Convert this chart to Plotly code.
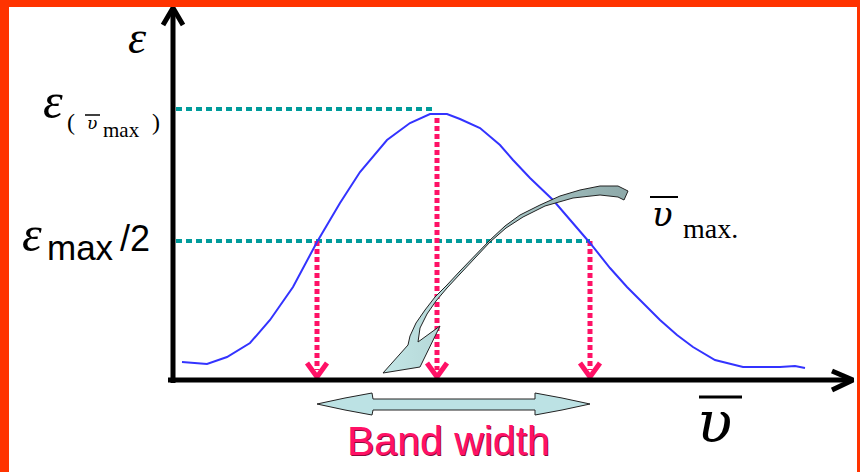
"""Absorption band sketch: epsilon vs wavenumber, with band width at half max."""

import plotly.graph_objects as go

# data units: x = wavenumber offset from the axis origin, y = epsilon
WAVE = [9, 34, 54, 77, 97, 120, 144, 167, 187, 214, 237, 257, 274, 287, 307, 327,
        340, 357, 380, 402, 417, 437, 454, 472, 487, 504, 520, 542, 570, 607, 622, 632]
EPS = [18, 16, 23, 37, 60, 93, 138, 177, 208, 240, 257, 266, 266, 261, 252, 235,
       220, 202, 180, 155, 137, 112, 93, 75, 60, 45, 33, 20, 13, 13, 14, 12]

EPS_MAX = 271
EPS_HALF = 139
PEAK_WAVE = 264
HALF_WAVES = [144, 417]

# decorative fat arrows (outline polygons, data units)
CURVED_X = [455, 445, 427, 407, 387, 367, 347, 332, 317, 302, 287, 274, 262, 252, 243, 237,
            235, 210, 247, 267, 245, 247, 254, 263, 274, 287, 302, 317, 333, 350, 372, 400,
            427, 445, 451, 455]
CURVED_Y = [189, 194, 194, 190, 184, 175, 165, 154, 140, 125, 109, 95, 83, 70, 57, 44,
            35, 7, 13, 54, 38, 52, 66, 79, 92, 106, 122, 138, 152, 163, 174, 182,
            185, 183, 180, 189]
BAND_X = [144, 172, 199, 200, 362, 362, 389, 417, 389, 362, 362, 200, 199, 172, 144]
BAND_Y = [-24, -18, -13, -19, -19, -13, -18, -24, -30, -35, -30, -30, -35, -30, -24]

BORDER = "#FF3300"
TEAL = "#009B9B"
PINK = "#FF1166"
SERIF = "Liberation Serif, Times New Roman, serif"
GREEK = "DejaVu Serif, serif"
SANS = "Liberation Sans, Arial, sans-serif"


def _line(fig, x, y, color, width, dash="solid"):
    fig.add_trace(go.Scatter(x=x, y=y, mode="lines", hoverinfo="skip",
                             line=dict(color=color, width=width, dash=dash)))


def _text(fig, x, y, text, size, family=SERIF, color="black"):
    fig.add_annotation(x=x, y=y, text=text, showarrow=False, xanchor="center", yanchor="middle",
                       font=dict(family=family, size=size, color=color))


fig = go.Figure()

# reference lines
_line(fig, [3, PEAK_WAVE - 2], [EPS_MAX, EPS_MAX], TEAL, 4, "6px,4px")
_line(fig, [3, HALF_WAVES[1]], [EPS_HALF, EPS_HALF], TEAL, 4, "6px,4px")

# dotted drop lines with chevron heads
for wx, top in [(HALF_WAVES[0], EPS_HALF), (PEAK_WAVE, 262), (HALF_WAVES[1], EPS_HALF)]:
    _line(fig, [wx, wx], [top, 10], PINK, 5, "5px,3px")
    _line(fig, [wx - 10, wx, wx + 10], [17, 3, 17], PINK, 5)

# the band
_line(fig, WAVE, EPS, "#3333FF", 2)

# curved pointer and band-width arrow
fig.add_trace(go.Scatter(x=CURVED_X, y=CURVED_Y, mode="lines", fill="toself", hoverinfo="skip",
                         line=dict(color="#222", width=1),
                         fillgradient=dict(type="horizontal",
                                           colorscale=[[0, "#C2E6E6"], [1, "#8EA9A9"]])))
fig.add_trace(go.Scatter(x=BAND_X, y=BAND_Y, mode="lines", fill="toself", hoverinfo="skip",
                         line=dict(color="#222", width=1), fillcolor="#BCE2E4"))

# axes with arrow heads
_line(fig, [0, 0], [-3, 370], "black", 5)
_line(fig, [-10, 0, 10], [355, 372, 355], "black", 5)
_line(fig, [-5, 678], [0, 0], "black", 5)
_line(fig, [659, 680, 659], [9, 0, -10], "black", 5)

# overbars of the wavenumber symbols
_line(fig, [-88, -73], [265, 265], "black", 1.5)
_line(fig, [477, 505], [183, 183], "black", 2)
_line(fig, [526, 569], [-17, -17], "black", 3)

# labels
_text(fig, -36, 343, "<i>ε</i>", 46)
_text(fig, -120, 279, "<i>ε</i>", 50)
_text(fig, -102, 258, "(", 24)
_text(fig, -81, 257, "<i>υ</i>", 17, GREEK)
_text(fig, -52, 250, "max", 21)
_text(fig, -17, 258, ")", 24)
_text(fig, -141, 146, "<i>ε</i>", 50)
_text(fig, -93, 133, "max", 35, SANS)
_text(fig, -38, 142, "/2", 36, SANS)
_text(fig, 489, 166, "<i>υ</i>", 34, GREEK)
_text(fig, 537, 152, "max.", 28)
_text(fig, 541, -42, "<i>υ</i>", 58, GREEK)
_text(fig, 276, -62, "Band width", 41, SANS, "#8B0A3A")
_text(fig, 275, -61, "Band width", 41, SANS, PINK)

# slide frame
for x0, x1, y0, y1 in [(-173, -164, -92, 380), (-173, 687, 373, 380), (684, 687, -92, 380)]:
    fig.add_shape(type="rect", x0=x0, x1=x1, y0=y0, y1=y1, line_width=0, fillcolor=BORDER)

fig.update_layout(
    width=860, height=472,
    margin=dict(l=0, r=0, t=0, b=0),
    paper_bgcolor="white", plot_bgcolor="white",
    showlegend=False,
)
fig.update_xaxes(range=[-173, 687], visible=False, fixedrange=True)
fig.update_yaxes(range=[-92, 380], visible=False, fixedrange=True)

# page body has a default margin; drop it so the frame sits at the window edge
fig.write_html("out.html", config={"displayModeBar": False},
               post_script="document.body.style.margin = '0';")
